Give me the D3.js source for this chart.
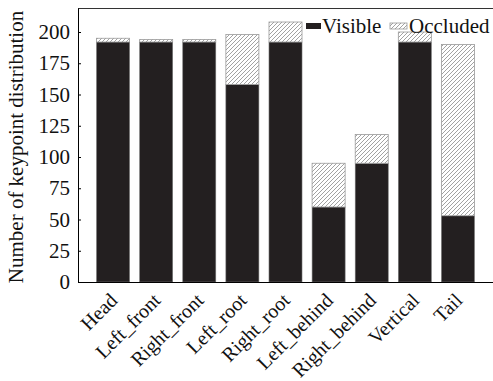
<!DOCTYPE html>
<html lang="en">
<head>
<meta charset="UTF-8">
<title>Keypoint distribution</title>
<style>
    body { margin: 0; background: #fff; }
    text { font-family: "Liberation Serif", "Times New Roman", serif; }
</style>
</head>
<body>
<svg id="chart" width="493" height="381"></svg>
<script src="https://d3js.org/d3.v7.min.js"></script>
<script>
// keypoint names and counts
var categories = ["Head", "Left_front", "Right_front", "Left_root", "Right_root",
                  "Left_behind", "Right_behind", "Vertical", "Tail"];
var visible  = [192, 192, 192, 158, 192, 60, 95, 192, 53];
var occluded = [3, 2, 2, 40, 16, 35, 23, 8, 137];
var yTicks = [0, 25, 50, 75, 100, 125, 150, 175, 200];

var svg = d3.select("#chart"),
    plotLeft = 78, plotRight = 493, plotTop = 8, plotBottom = 282;

// hatch pattern for occluded part
var defs = svg.append("defs");
var pat = defs.append("pattern")
    .attr("id", "hatch")
    .attr("patternUnits", "userSpaceOnUse")
    .attr("width", 4).attr("height", 4);
pat.append("rect").attr("width", 4).attr("height", 4).attr("fill", "#fff");
pat.append("path")
    .attr("d", "M-1,1 l2,-2 M0,4 l4,-4 M3,5 l2,-2")
    .attr("stroke", "#8a8a8a").attr("stroke-width", 0.8);

var x = d3.scaleBand()
    .domain(categories)
    .range([plotLeft, plotRight])
    .paddingInner(0.234)
    .paddingOuter(0.43);

var y = d3.scaleLinear()
    .domain([0, 219.2])
    .range([plotBottom, plotTop]);

var rows = categories.map(function(c, i) {
    return { name: c, vis: visible[i], occ: occluded[i] };
});

// visible part
svg.append("g").selectAll("rect")
    .data(rows).enter().append("rect")
    .attr("x", function(d) { return x(d.name); })
    .attr("width", x.bandwidth())
    .attr("y", function(d) { return y(d.vis); })
    .attr("height", function(d) { return y(0) - y(d.vis); })
    .attr("fill", "#231f20")
    .attr("stroke", "#777").attr("stroke-width", 0.6);

// occluded part on top
svg.append("g").selectAll("rect")
    .data(rows).enter().append("rect")
    .attr("x", function(d) { return x(d.name); })
    .attr("width", x.bandwidth())
    .attr("y", function(d) { return y(d.vis + d.occ); })
    .attr("height", function(d) { return y(d.vis) - y(d.vis + d.occ); })
    .attr("fill", "url(#hatch)")
    .attr("stroke", "#9a9a9a").attr("stroke-width", 0.8);

// frame: top line, left and bottom axes
svg.append("line")
    .attr("x1", plotLeft).attr("x2", plotRight).attr("y1", plotTop + 0.5).attr("y2", plotTop + 0.5)
    .attr("stroke", "#333").attr("stroke-width", 1);

var yAxis = svg.append("g")
    .attr("transform", "translate(" + plotLeft + ",0)")
    .call(d3.axisLeft(y).tickValues(yTicks).tickSizeInner(-3).tickSizeOuter(0).tickPadding(8));
yAxis.select(".domain").attr("stroke", "#000");
yAxis.selectAll("text").attr("font-size", 21).attr("fill", "#111");

var xAxis = svg.append("g")
    .attr("transform", "translate(0," + plotBottom + ")")
    .call(d3.axisBottom(x).tickSize(0).tickSizeOuter(0).tickPadding(0));
xAxis.select(".domain").attr("d", "M" + plotLeft + ",0.5H" + plotRight).attr("stroke", "#000");
xAxis.selectAll("text")
    .attr("font-size", 20)
    .attr("fill", "#111")
    .attr("text-anchor", "end")
    .attr("dy", "0.75em")
    .attr("transform", "translate(-5,9) rotate(-45)");

// y axis title
svg.append("text")
    .attr("transform", "translate(23,147) rotate(-90)")
    .attr("text-anchor", "middle")
    .attr("font-size", 21)
    .attr("fill", "#111")
    .text("Number of keypoint distribution");

// legend
var lg = svg.append("g");
lg.append("rect").attr("x", 306).attr("y", 23).attr("width", 15).attr("height", 6)
    .attr("fill", "#231f20");
lg.append("text").attr("x", 322).attr("y", 33).attr("font-size", 21).attr("fill", "#111")
    .text("Visible");
lg.append("rect").attr("x", 390).attr("y", 23).attr("width", 17).attr("height", 6)
    .attr("fill", "url(#hatch)").attr("stroke", "#9a9a9a").attr("stroke-width", 0.8);
lg.append("text").attr("x", 409).attr("y", 33).attr("font-size", 21).attr("fill", "#111")
    .text("Occluded");
</script>
</body>
</html>
